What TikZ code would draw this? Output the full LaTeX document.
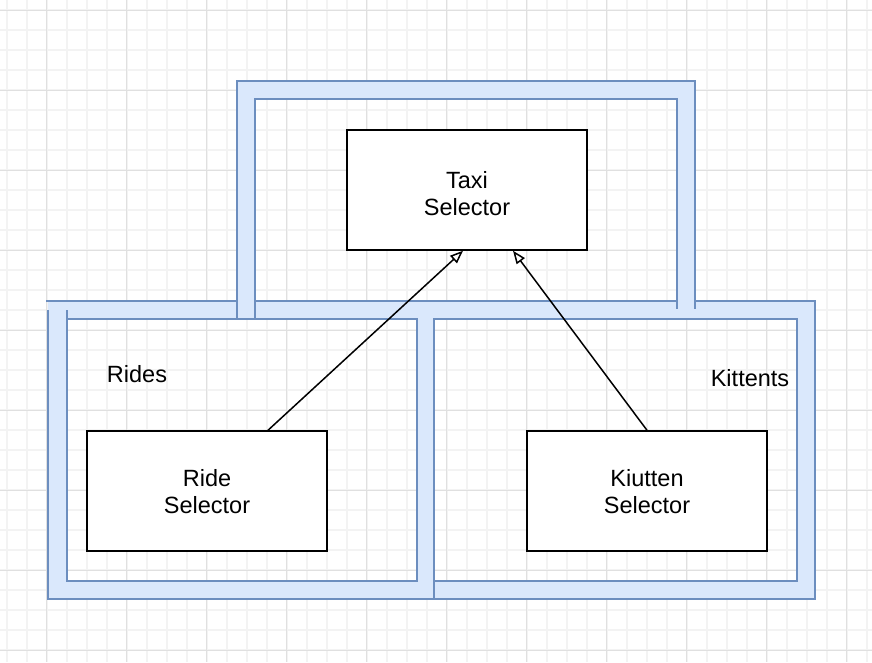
\documentclass[tikz,border=0pt]{standalone}
\usepackage{fontspec}
\setmainfont{Liberation Sans}
\usetikzlibrary{arrows.meta}
\definecolor{bandfill}{HTML}{DAE8FC}
\definecolor{bandline}{HTML}{6C8EBF}
\definecolor{gridmajor}{HTML}{E0E0E0}
\definecolor{gridminor}{HTML}{F3F3F3}
\begin{document}
\begin{tikzpicture}[x=1pt,y=-1pt,
  minorgrid/.style={gridminor,line width=1.6pt},
  majorgrid/.style={gridmajor,line width=1pt},
  band/.style={fill=bandfill,even odd rule},
  edge/.style={bandline,line width=1.6pt},
  txt/.style={font=\fontsize{23.5}{27}\selectfont},
  selbox/.style={draw=black,fill=white,line width=1.5pt,minimum width=240pt,minimum height=120pt,inner sep=0pt},
  seltext/.style={txt,align=center,inner sep=0pt,yshift=-3.5pt},
  lowtext/.style={txt,align=center,inner sep=0pt,yshift=-1pt},
  lbl/.style={txt,inner sep=0pt},
  arr/.style={line width=1.5pt,-{Triangle[open,length=13pt,width=10pt,fill=white]}}]
\useasboundingbox (0,0) rectangle (872,662);
\fill[white] (0,0) rectangle (872,662);
% grid
\foreach \i in {0,...,43} {\draw[minorgrid] ({6.7+20*\i},0) -- ({6.7+20*\i},662);}
\foreach \i in {0,...,33} {\draw[minorgrid] (0,{10+20*\i}) -- (872,{10+20*\i});}
\foreach \i in {0,...,10} {\draw[majorgrid] ({46.7+80*\i},0) -- ({46.7+80*\i},662);}
\foreach \i in {0,...,8} {\draw[majorgrid] (0,{10+80*\i}) -- (872,{10+80*\i});}
% bands
\fill[band] (237,81) rectangle (695,318) (255,99) rectangle (677,300);
\fill[band] (48,301) rectangle (434,599) (67,319) rectangle (417,581);
\fill[band] (416,301) rectangle (815,599) (434,319) rectangle (797,581);
% outlines
\draw[edge] (237,318) -- (237,81) -- (695,81) -- (695,309);
\draw[edge] (255,318) -- (255,99) -- (677,99) -- (677,309);
\draw[edge] (46,301) -- (237,301) (255,301) -- (677,301);
\draw[edge] (695,301) -- (815,301) -- (815,599) -- (48,599) -- (48,310);
\draw[edge] (67,310) -- (67,581) -- (417,581) -- (417,319) -- (67,319);
\draw[edge] (434,599) -- (434,319) -- (797,319) -- (797,581) -- (434,581);
% boxes
\node[selbox,label={[seltext]center:Taxi\\Selector}] (taxi) at (467,190) {};
\node[selbox,label={[lowtext]center:Ride\\Selector}] (ride) at (207,491) {};
\node[selbox,label={[lowtext]center:Kiutten\\Selector}] (kiutten) at (647,491) {};
% labels
\node[lbl] (rides) at (137,374) {Rides};
\node[lbl] (kittents) at (750,378) {Kittents};
% arrows
\draw[arr] ([xshift=61pt]ride.north) -- ([xshift=-4pt]taxi.south);
\draw[arr] (kiutten.north) -- ([xshift=46pt]taxi.south);
\end{tikzpicture}
\end{document}
